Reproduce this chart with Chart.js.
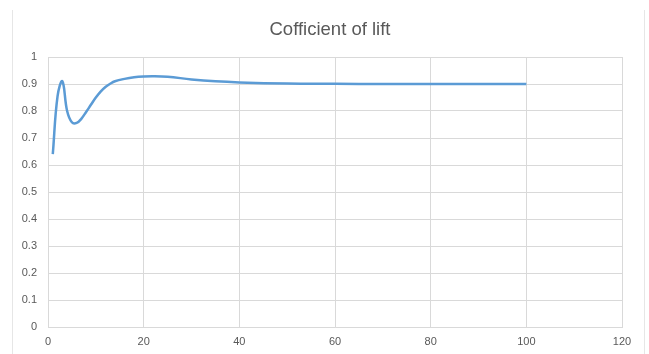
<!DOCTYPE html>
<html>
<head>
<meta charset="utf-8">
<title>Cofficient of lift</title>
<script src="https://cdn.jsdelivr.net/npm/chart.js@4/dist/chart.umd.min.js"></script>
<style>
  html, body { margin: 0; padding: 0; background: #ffffff; }
  #wrap { position: relative; width: 649px; height: 354px; }
  #frame {
    position: absolute; left: 12px; top: 10px; width: 631px; height: 350px;
    border-left: 1px solid #e6e6e6; border-right: 1px solid #e6e6e6;
    pointer-events: none;
  }
  canvas { position: absolute; left: 0; top: 0; }
</style>
</head>
<body>
<div id="wrap">
  <canvas id="chart" width="649" height="354"></canvas>
  <div id="frame"></div>
</div>
<script>
// Lift coefficient against step
const chartTitle = 'Cofficient of lift';
const xValues    = [1, 2, 3, 4, 5, 6, 7, 8, 9, 10, 11, 12, 13, 14, 16, 18, 20, 22, 25, 30, 35, 40, 50, 60, 70, 80, 90, 100];
const liftValues = [0.64, 0.855, 0.91, 0.80, 0.758, 0.756, 0.772, 0.797, 0.824, 0.850, 0.872, 0.889, 0.901, 0.910, 0.919, 0.925, 0.928, 0.929, 0.927, 0.917, 0.910, 0.906, 0.902, 0.901, 0.900, 0.900, 0.900, 0.900];
const xTickLabels = ['0', '20', '40', '60', '80', '100', '120'];
const yTickLabels = ['0', '0.1', '0.2', '0.3', '0.4', '0.5', '0.6', '0.7', '0.8', '0.9', '1'];

const points = xValues.map((x, i) => ({ x: x, y: liftValues[i] }));
const gridColor = '#d9d9d9';
const textColor = '#595959';
const fontFamily = '"Liberation Sans", Arial, sans-serif';
const tickFont = { family: fontFamily, size: 11 };

// Title sits centred over the whole chart frame
const titlePlugin = {
  id: 'frameTitle',
  afterDraw(chart) {
    const ctx = chart.ctx;
    ctx.save();
    ctx.font = '18.5px ' + fontFamily;
    ctx.fillStyle = textColor;
    ctx.textAlign = 'center';
    ctx.textBaseline = 'middle';
    ctx.fillText(chartTitle, 330, 30);
    ctx.restore();
  }
};

new Chart(document.getElementById('chart'), {
  type: 'line',
  data: {
    datasets: [{
      data: points,
      borderColor: '#5b9bd5',
      borderWidth: 2.5,
      pointRadius: 0,
      fill: false,
      tension: 0.4
    }]
  },
  options: {
    responsive: false,
    animation: false,
    layout: { padding: { top: 57, left: 10, right: 27, bottom: 0 } },
    plugins: {
      legend: { display: false },
      tooltip: { enabled: false },
      title: { display: false }
    },
    scales: {
      x: {
        type: 'linear',
        min: 0, max: 120,
        ticks: {
          stepSize: 20,
          color: textColor,
          font: tickFont,
          padding: 8,
          maxRotation: 0,
          callback: (v) => xTickLabels[Math.round(v / 20)] ?? ''
        },
        grid: { color: gridColor, drawTicks: false },
        border: { color: gridColor },
        afterFit: (s) => { s.height = 27; }
      },
      y: {
        min: 0, max: 1,
        ticks: {
          stepSize: 0.1,
          color: textColor,
          font: tickFont,
          padding: 11,
          callback: (v) => yTickLabels[Math.round(v * 10)] ?? ''
        },
        grid: { color: gridColor, drawTicks: false },
        border: { color: gridColor },
        afterFit: (s) => { s.width = 38; }
      }
    }
  },
  plugins: [titlePlugin]
});
</script>
</body>
</html>
